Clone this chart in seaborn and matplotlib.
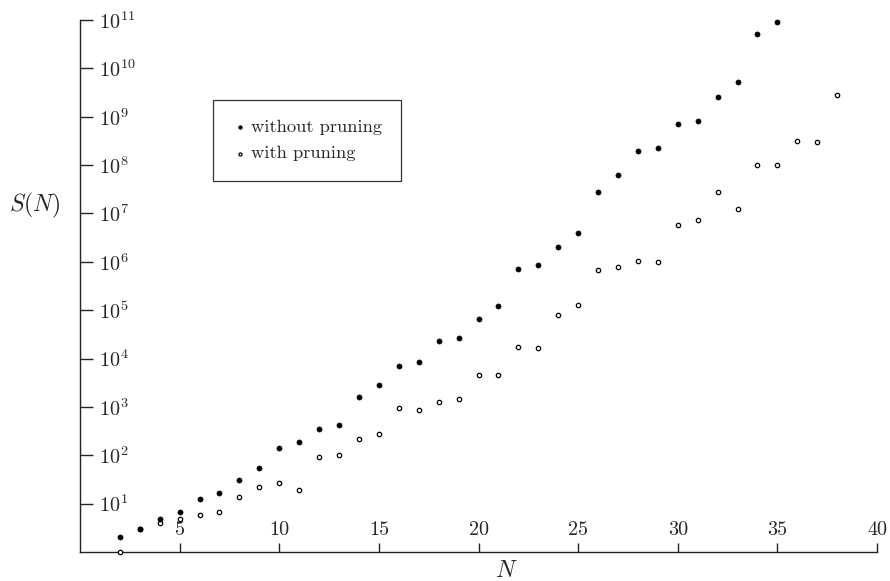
import numpy as np
import pandas as pd
import matplotlib
matplotlib.use("Agg")
import matplotlib.pyplot as plt
import seaborn as sns

# S(N)
n_without = list(range(2, 36))
s_without = [2.0, 3.0, 4.9, 6.8, 12.6, 16.8, 31, 55, 143, 190, 353, 426, 1620, 2860,
             7060, 8530, 23200, 26700, 66000, 123000, 713000, 850000, 2.0e6, 4.0e6,
             2.77e7, 6.3e7, 1.95e8, 2.25e8, 7.1e8, 8.1e8, 2.57e9, 5.2e9, 5.1e10, 9.1e10]

n_with = list(range(2, 39))
s_with = [1.0, 3.0, 4.0, 4.9, 5.9, 6.8, 13.9, 22.3, 27, 19.4, 93, 102, 219, 277,
          960, 870, 1270, 1470, 4600, 4600, 17500, 16700, 80000, 129000, 680000,
          780000, 1.05e6, 1.0e6, 5.8e6, 7.4e6, 2.77e7, 1.24e7, 1.0e8, 1.0e8,
          3.15e8, 3.0e8, 2.8e9]

x_ticks = [5, 10, 15, 20, 25, 30, 35, 40]
legend_labels = ["without pruning", "with pruning"]

df_without = pd.DataFrame({"N": n_without, "S": s_without})
df_with = pd.DataFrame({"N": n_with, "S": s_with})

sns.set_style("white")
plt.rcParams["font.family"] = "serif"
plt.rcParams["font.serif"] = ["cmr10", "DejaVu Serif"]
plt.rcParams["mathtext.fontset"] = "cm"
plt.rcParams["axes.formatter.use_mathtext"] = True
plt.rcParams["axes.unicode_minus"] = False

fig = plt.figure(figsize=(8.9, 5.81), dpi=100)
ax = fig.add_axes([80 / 890, 29 / 581, 797 / 890, 532 / 581])

sns.scatterplot(data=df_without, x="N", y="S", ax=ax, s=14, color="black",
                edgecolor="black", linewidth=0.4, label=legend_labels[0],
                clip_on=False, zorder=4)
sns.scatterplot(data=df_with, x="N", y="S", ax=ax, s=10, facecolor="white",
                edgecolor="black", linewidth=0.9, label=legend_labels[1],
                clip_on=False, zorder=3)

ax.set_yscale("log")
ax.set_xlim(0, 40)
ax.set_ylim(1, 1e11)
ax.set_xticks(x_ticks)
ax.set_xticklabels([str(t) for t in x_ticks])
ax.set_yticks([10.0 ** k for k in range(1, 12)])
ax.yaxis.set_minor_locator(matplotlib.ticker.NullLocator())

for side in ["top", "right"]:
    ax.spines[side].set_visible(False)
for side in ["left", "bottom"]:
    ax.spines[side].set_color("#222222")
    ax.spines[side].set_linewidth(1.0)

# ticks point inward, labels sit inside the plot
ax.tick_params(axis="y", left=True, direction="in", length=9.4, width=1.0, pad=-13.7,
               labelsize=14.5, color="#222222")
ax.tick_params(axis="x", bottom=True, direction="in", length=6.5, width=1.0, pad=-9.1,
               labelsize=14.5, color="#222222")
for lab in ax.get_yticklabels():
    lab.set_horizontalalignment("left")
for lab in ax.get_xticklabels():
    lab.set_verticalalignment("bottom")

ax.set_xlabel("$N$", fontsize=17, va="center")
ax.xaxis.set_label_coords(0.535, -0.036)
ax.set_ylabel("$S(N)$", fontsize=17, rotation=0, ha="right", va="center")
ax.yaxis.set_label_coords(-0.025, 0.652)

leg = ax.legend(loc="upper left", bbox_to_anchor=(0.1665, 0.8496), fontsize=13.3,
                frameon=True, fancybox=False, edgecolor="black", borderpad=1.05,
                handlelength=0.9, handletextpad=0.12, labelspacing=0.55,
                markerscale=0.7, borderaxespad=0)
leg.get_frame().set_linewidth(0.9)

fig.savefig("out.png", dpi=100)
